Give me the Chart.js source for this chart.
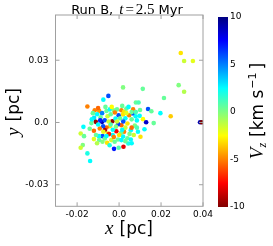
<!DOCTYPE html>
<html><head><meta charset="utf-8">
<script src="https://cdn.jsdelivr.net/npm/chart.js@4"></script>
<style>html,body{margin:0;padding:0;background:#fff}#wrap{position:relative;width:273px;height:246px}canvas{position:absolute;left:0;top:0}</style>
</head><body><div id="wrap"><canvas id="c" width="273" height="246"></canvas><canvas id="cb" width="273" height="246"></canvas></div>
<script>
const xs=[0.0294,0.0310,0.0352,0.0284,0.0310,0.0214,0.0246,0.0386,0.0394,0.0165,0.0019,0.0113,0.0138,0.0154,0.0197,0.0114,0.0129,0.0121,0.0102,0.0080,0.0093,-0.0051,-0.0151,-0.0170,-0.0183,-0.0167,-0.0173,-0.0183,-0.0151,-0.0138,-0.0024,-0.0002,0.0021,0.0044,
-0.0075,-0.0116,-0.0095,-0.0081,-0.0060,-0.0044,-0.0025,-0.0010,0.0011,0.0024,0.0035,0.0067,-0.0119,-0.0111,-0.0132,-0.0081,-0.0068,-0.0032,-0.0017,-0.0002,0.0019,0.0048,0.0067,0.0079,0.0098,0.0040,0.0011,-0.0005,-0.0044,-0.0060,-0.0076,-0.0092,-0.0068,-0.0100,0.0056,0.0024,-0.0013,-0.0030,-0.0053,-0.0079,-0.0096,-0.0048,-0.0068,-0.0037,-0.0005,0.0019,0.0040,0.0056,-0.0079,-0.0057,-0.0021,0.0011,
-0.0105,-0.0088,-0.0055,-0.0040,-0.0020,0.0005,0.0030,0.0060,0.0085,0.0075,0.0090,0.0070,0.0050,0.0030,0.0010,-0.0015,-0.0030,-0.0050,-0.0120,-0.0110,-0.0120,-0.0095,-0.0060,-0.0025,0.0000,0.0030,0.0060,0.0045,0.0015,-0.0035,-0.0065,-0.0100,-0.0125,-0.0090,-0.0040,0.0020,0.0060,0.0085,-0.0130,-0.0075,-0.0010,0.0035,0.0100,0.0015,-0.0140,-0.0105,-0.0045,0.0060,0.0080];
const ys=[0.0335,0.0296,0.0296,0.0180,0.0148,0.0118,0.0030,0.0001,0.0001,-0.0003,0.0169,0.0162,0.0065,0.0054,0.0045,0.0016,0.0001,-0.0033,-0.0069,0.0096,0.0096,0.0128,0.0077,-0.0021,-0.0053,-0.0066,-0.0109,-0.0122,-0.0149,-0.0186,-0.0127,-0.0122,-0.0117,-0.0101,
0.0110,0.0059,0.0056,0.0045,0.0055,0.0063,0.0059,0.0063,0.0059,0.0051,0.0067,0.0063,0.0022,0.0003,-0.0003,0.0003,0.0011,0.0006,0.0019,0.0035,0.0039,0.0035,0.0043,0.0030,0.0032,-0.0005,-0.0013,-0.0008,-0.0018,-0.0024,-0.0018,-0.0029,-0.0037,-0.0010,-0.0037,-0.0045,-0.0042,-0.0060,-0.0053,-0.0066,-0.0066,-0.0056,-0.0077,-0.0085,-0.0082,-0.0068,-0.0076,-0.0082,-0.0093,-0.0098,-0.0093,-0.0085,
0.0040,0.0025,0.0030,0.0040,0.0048,0.0020,0.0020,0.0015,0.0010,-0.0015,-0.0045,-0.0060,-0.0055,-0.0025,-0.0050,-0.0020,-0.0035,0.0005,-0.0040,-0.0060,-0.0080,-0.0085,-0.0065,-0.0070,-0.0060,-0.0090,0.0050,0.0075,0.0080,0.0075,0.0075,0.0070,0.0045,0.0010,-0.0010,0.0005,-0.0025,-0.0025,0.0015,-0.0045,0.0005,0.0045,0.0060,-0.0035,-0.0030,-0.0100,-0.0110,-0.0100,0.0050];
const vz=[-3,-1.5,-2,0,-1,0.5,-3.5,9,-10,0.5,0,0.5,6,0.5,2.5,-2.5,8.5,2.5,-3,0.5,1,6,-5,2.5,-1.5,0.5,0,-1.5,2,2.5,7,1,-8,2,
2.5,-5,-4.5,5,0.5,2.5,0,0.5,-5,-3,0.5,-5,3,-9.5,0.5,9,6,-9.5,2.5,6,-3,-5,6,2.5,2.5,-3,-5.5,6.5,-3,-5.5,6,-5,-9,2.5,2.5,-5,-7.5,2.5,-3,6,2.5,-7,0.5,-1.5,0.5,2.5,0.5,2.5,0,-3,0.5,2.5,
2.5,0.5,-1.5,0.5,-5,0.5,2.5,0.5,2.5,0,2.5,-1.5,0,-1.5,0.5,0,2.5,-1.5,-5.5,0.5,-2,0.5,2.5,-5,-3,0.5,0.5,2.5,0.5,-2.5,0.5,-5.5,0.5,7,1,6,-5.5,1,2.5,-2,-1.5,-2,0.5,2.5,0.5,-1,2,2.5,1];
const xTicks=[-0.02,0,0.02,0.04];
const yTicks=[-0.03,0,0.03];
const cbTicks=[-10,-5,0,5,10];

function clamp(v){return Math.max(0,Math.min(1,v));}
function jet(t){
  const r=clamp(Math.min(4*t-1.5,-4*t+4.5)),g=clamp(Math.min(4*t-0.5,-4*t+3.5)),b=clamp(Math.min(4*t+0.5,-4*t+2.5));
  return 'rgb('+Math.round(r*255)+','+Math.round(g*255)+','+Math.round(b*255)+')';
}
function vzColor(v){return jet((10-v)/20);}
function fmt(v){return v===0?'0.0':String(v);}

function drawRuns(ctx,runs,cx,by){
  let total=0;
  runs.forEach(r=>{ctx.font=r.f;r.w=ctx.measureText(r.t).width;total+=r.w+(r.g||0);});
  let x=cx-total/2;
  ctx.textAlign='left';ctx.textBaseline='alphabetic';ctx.fillStyle='#000';
  runs.forEach(r=>{ctx.font=r.f;ctx.fillText(r.t,x,by+(r.dy||0));x+=r.w+(r.g||0);});
}
const SANS='"DejaVu Sans"', SERIF='"Liberation Serif"';

const framePlugin={id:'frame',afterDraw(chart){
  const ctx=chart.ctx,a=chart.chartArea,sx=chart.scales.x,sy=chart.scales.y;
  ctx.save();
  ctx.strokeStyle='#a0a0a0';ctx.lineWidth=1;
  ctx.strokeRect(a.left,a.top,a.right-a.left,a.bottom-a.top);
  ctx.beginPath();
  xTicks.forEach(v=>{const p=sx.getPixelForValue(v);ctx.moveTo(p,a.bottom);ctx.lineTo(p,a.bottom-4);ctx.moveTo(p,a.top);ctx.lineTo(p,a.top+4);});
  yTicks.forEach(v=>{const p=sy.getPixelForValue(v);ctx.moveTo(a.left,p);ctx.lineTo(a.left+4,p);ctx.moveTo(a.right,p);ctx.lineTo(a.right-4,p);});
  ctx.stroke();
  // title
  drawRuns(ctx,[{t:'Run B,',f:'13px '+SANS,g:6},{t:'t',f:'italic 15px '+SERIF,g:2},{t:'=',f:'15px '+SERIF,g:2},{t:'2.5',f:'15px '+SERIF,g:4},{t:'Myr',f:'13px '+SANS}],127,14);
  // x label
  drawRuns(ctx,[{t:'x',f:'italic 19px '+SERIF,g:6},{t:'[pc]',f:'17px '+SANS}],129,234);
  // y label
  ctx.translate(19,112);ctx.rotate(-Math.PI/2);
  drawRuns(ctx,[{t:'y',f:'italic 19px '+SERIF,g:6},{t:'[pc]',f:'17px '+SANS}],0,0);
  ctx.restore();
}};

new Chart(document.getElementById('c'),{
  type:'scatter',
  data:{datasets:[{data:xs.map((x,i)=>({x:x,y:ys[i]})),pointBackgroundColor:vz.map(vzColor),pointBorderWidth:0,pointRadius:2.3,pointHoverRadius:2.3}]},
  options:{responsive:false,animation:false,events:[],
    layout:{padding:{top:15,right:70,left:0,bottom:0}},
    plugins:{legend:{display:false},tooltip:{enabled:false}},
    scales:{
      x:{type:'linear',min:-0.0303,max:0.04,afterBuildTicks:s=>{s.ticks=xTicks.map(v=>({value:v}));},afterFit:s=>{s.height=39.7;},
        ticks:{callback:v=>fmt(v),font:{family:'DejaVu Sans',size:9},color:'#000',padding:3,maxRotation:0,autoSkip:false},
        grid:{display:false,drawTicks:false},border:{display:false}},
      y:{type:'linear',min:-0.0404,max:0.0518,afterBuildTicks:s=>{s.ticks=yTicks.map(v=>({value:v}));},afterFit:s=>{s.width=55.5;},
        ticks:{callback:v=>fmt(v),font:{family:'DejaVu Sans',size:9},color:'#000',padding:7,autoSkip:false},
        grid:{display:false,drawTicks:false},border:{display:false}}
    }},
  plugins:[framePlugin]
});

const cbLabelPlugin={id:'cblabel',afterDraw(chart){
  const ctx=chart.ctx;ctx.save();
  ctx.translate(263,111);ctx.rotate(-Math.PI/2);
  drawRuns(ctx,[{t:'V',f:'italic 19px '+SERIF,g:0},{t:'z',f:'italic 12px '+SERIF,dy:3,g:6},{t:'[km s',f:'17px '+SANS,g:1},{t:'\u22121',f:'11px '+SANS,dy:-7,g:3},{t:']',f:'17px '+SANS}],0,0);
  ctx.restore();
}};

new Chart(document.getElementById('cb'),{
  type:'bar',
  data:{labels:['Vz'],datasets:[{data:[[cbTicks[0],cbTicks[cbTicks.length-1]]],barPercentage:1,categoryPercentage:1,borderWidth:0,
    backgroundColor:(c)=>{const a=c.chart.chartArea;if(!a)return '#888';const g=c.chart.ctx.createLinearGradient(0,a.bottom,0,a.top);
      for(let i=0;i<=40;i++){const s=i/40;g.addColorStop(s,vzColor(-10+20*s));}return g;}}]},
  options:{responsive:false,animation:false,events:[],
    layout:{padding:{left:218,top:17,bottom:39,right:0}},
    plugins:{legend:{display:false},tooltip:{enabled:false}},
    scales:{
      x:{display:false},
      y:{position:'right',min:-10,max:10,afterBuildTicks:s=>{s.ticks=cbTicks.map(v=>({value:v}));},afterFit:s=>{s.width=45;},
        ticks:{font:{family:'DejaVu Sans',size:9},color:'#000',padding:2,autoSkip:false},
        grid:{display:false,drawTicks:false},border:{display:false}}
    }},
  plugins:[cbLabelPlugin]
});
</script></body></html>
